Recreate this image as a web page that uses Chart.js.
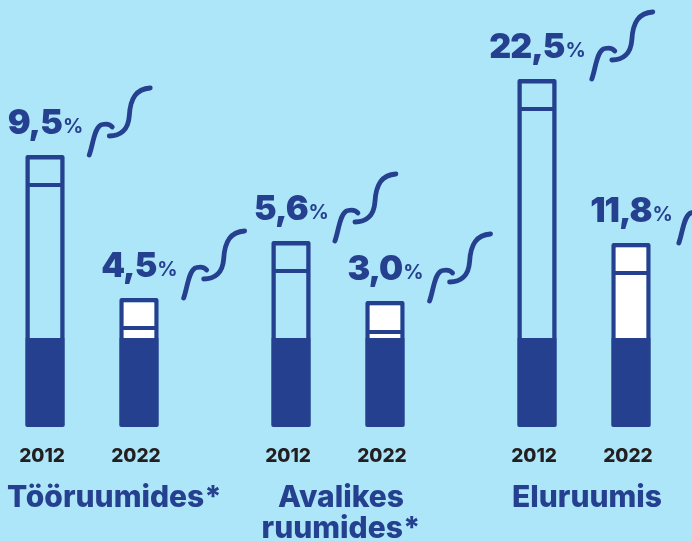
<!DOCTYPE html>
<html>
<head>
<meta charset="utf-8">
<script src="https://cdn.jsdelivr.net/npm/chart.js@4.4.1/dist/chart.umd.min.js"></script>
<style>
html, body { margin: 0; padding: 0; background: #ade5f9; }
</style>
</head>
<body>
<canvas id="smokeChart" width="692" height="541"></canvas>
<script>
const categories = [['Tööruumides*'], ['Avalikes', 'ruumides*'], ['Eluruumis']];
const years = ['2012', '2022'];
const share2012 = [9.5, 5.6, 22.5];
const share2022 = [4.5, 3.0, 11.8];
// cigarette parts as drawn in the picture (1 unit = 10 px)
const filterLen = [8.9, 8.9, 8.9];
const body2012 = [15.3, 6.7, 22.9];
const body2022 = [1.0, 0.6, 6.5];
const tip2012 = [3.0, 3.0, 3.0];
const tip2022 = [3.0, 3.1, 3.0];

const bg = '#ade5f9';
const dark = '#25408f';

function part(label, data, stack, fill, borderWidth, radius) {
  return {
    label: label,
    data: data,
    stack: stack,
    backgroundColor: fill,
    borderColor: dark,
    borderWidth: borderWidth,
    borderSkipped: false,
    borderRadius: radius,
    barPercentage: 0.42,
    categoryPercentage: 0.764,
    clip: false
  };
}

const noR = {topLeft: 0, topRight: 0, bottomLeft: 0, bottomRight: 0};
const botR = {topLeft: 0, topRight: 0, bottomLeft: 2, bottomRight: 2};
const topR = {topLeft: 2, topRight: 2, bottomLeft: 0, bottomRight: 0};
const sideW = {top: 2, left: 4.5, right: 4.5, bottom: 0};
const tipW = {top: 4.5, left: 4.5, right: 4.5, bottom: 2};

const datasets = [
  part('filter 2012', filterLen, 'y2012', dark, 0, botR),
  part('body 2012', body2012, 'y2012', 'rgba(0,0,0,0)', sideW, noR),
  part('tip 2012', tip2012, 'y2012', 'rgba(0,0,0,0)', tipW, topR),
  part('filter 2022', filterLen, 'y2022', dark, 0, botR),
  part('body 2022', body2022, 'y2022', '#ffffff', sideW, noR),
  part('tip 2022', tip2022, 'y2022', '#ffffff', tipW, topR)
];
const shares = [share2012, share2022];
const tipIndex = [2, 5];

function fmt(v) {
  return v.toFixed(1).replace('.', ',');
}

function smoke(ctx, x, y) {
  ctx.save();
  ctx.strokeStyle = dark;
  ctx.lineWidth = 4.8;
  ctx.lineCap = 'round';
  ctx.beginPath();
  ctx.moveTo(x + 5, y + 21);
  ctx.bezierCurveTo(x + 9, y + 10, x + 10, y - 8, x + 18, y - 9.5);
  ctx.quadraticCurveTo(x + 25, y - 11, x + 28, y - 7);
  ctx.stroke();
  ctx.beginPath();
  ctx.moveTo(x + 25, y + 2);
  ctx.bezierCurveTo(x + 36, y + 2, x + 44, y - 4, x + 45, y - 18);
  ctx.bezierCurveTo(x + 46, y - 36, x + 52, y - 45, x + 66, y - 46);
  ctx.stroke();
  ctx.restore();
}

const numFont = '900 34px Inter';
const pctFont = '700 20px Inter';

const decor = {
  id: 'decor',
  beforeDraw(chart) {
    const ctx = chart.ctx;
    ctx.save();
    ctx.fillStyle = bg;
    ctx.fillRect(0, 0, chart.width, chart.height);
    ctx.restore();
  },
  afterDatasetsDraw(chart) {
    const ctx = chart.ctx;
    const area = chart.chartArea;
    ctx.save();
    ctx.textBaseline = 'alphabetic';
    const centers = [];
    for (let s = 0; s < 2; s++) {
      const meta = chart.getDatasetMeta(tipIndex[s]);
      meta.data.forEach(function(bar, j) {
        centers[j] = (centers[j] || 0) + bar.x / 2;
        // value label: big number + small %
        const num = fmt(shares[s][j]);
        ctx.letterSpacing = '-1px';
        ctx.font = numFont;
        const w1 = ctx.measureText(num).width;
        ctx.letterSpacing = '0px';
        ctx.font = pctFont;
        const w2 = ctx.measureText('%').width;
        const left = bar.x - (w1 + w2) / 2;
        const base = bar.y - 21;
        ctx.fillStyle = dark;
        ctx.textAlign = 'left';
        ctx.letterSpacing = '-1px';
        ctx.font = numFont;
        ctx.fillText(num, left, base);
        ctx.letterSpacing = '0px';
        ctx.font = pctFont;
        ctx.fillText('%', left + w1 + 1, base - 1);
        smoke(ctx, left + w1 + w2 + 2, base);
        // year under the bar
        ctx.fillStyle = '#231f20';
        ctx.textAlign = 'center';
        ctx.font = '800 19px Inter';
        ctx.fillText(years[s], bar.x - 3, area.bottom + 35);
      });
    }
    ctx.fillStyle = dark;
    ctx.font = '800 30px Inter';
    ctx.textAlign = 'center';
    chart.data.labels.forEach(function(lines, j) {
      let widest = 0;
      lines.forEach(function(l) { widest = Math.max(widest, ctx.measureText(l).width); });
      let cx = centers[j] + 3;
      if (cx - widest / 2 < 7) cx = 7 + widest / 2;
      if (cx + widest / 2 > chart.width - 6) cx = chart.width - 6 - widest / 2;
      lines.forEach(function(l, k) {
        ctx.fillText(l, cx, area.bottom + 80 + k * 31);
      });
    });
    ctx.restore();
  }
};

new Chart(document.getElementById('smokeChart').getContext('2d'), {
  type: 'bar',
  data: { labels: categories, datasets: datasets },
  options: {
    responsive: false,
    animation: false,
    layout: { padding: { left: 92, right: 108, top: 0, bottom: 114 } },
    scales: {
      x: { type: 'category', stacked: true, offset: false, display: false },
      y: { stacked: true, min: 0, max: 42.7, display: false }
    },
    plugins: { legend: { display: false }, tooltip: { enabled: false } }
  },
  plugins: [decor]
});
</script>
</body>
</html>
